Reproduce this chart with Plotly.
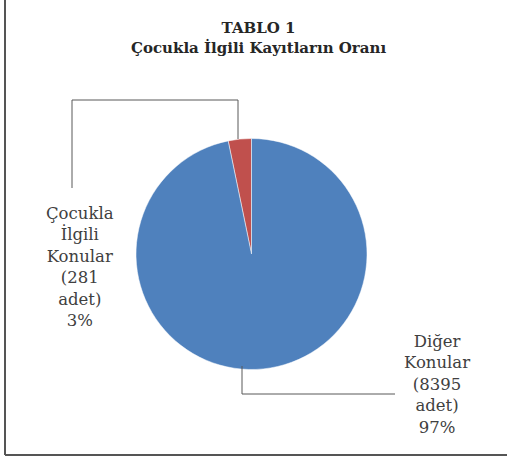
import plotly.graph_objects as go

W, H = 507, 460

categories = ["Çocukla İlgili Konular", "Diğer Konular"]
counts = [281, 8395]
percent_labels = ["3%", "97%"]
colors = ["#C0504D", "#4F81BD"]

def px(x):
    return x / W

def py(y):
    return 1 - y / H

cx, cy, r = 251.5, 254, 115.5

# rotate so the small slice ends at 12 o'clock (sits just left of the top)
start_angle = -360 * counts[0] / sum(counts)

fig = go.Figure(go.Pie(
    labels=categories,
    values=counts,
    sort=False,
    direction="clockwise",
    rotation=start_angle,
    textinfo="none",
    hoverinfo="label+value+percent",
    marker=dict(colors=colors, line=dict(color="white", width=0.5)),
    domain=dict(x=[px(cx - r), px(cx + r)], y=[py(cy + r), py(cy - r)]),
    showlegend=False,
))

line_col = "#595959"
shapes = [
    # chart border (left and bottom)
    dict(type="line", xref="paper", yref="paper", x0=px(5), y0=py(0), x1=px(5), y1=py(455),
         line=dict(color="#555555", width=2)),
    dict(type="line", xref="paper", yref="paper", x0=px(5), y0=py(455), x1=px(507), y1=py(455),
         line=dict(color="#555555", width=2)),
    # leader line for small slice
    dict(type="path", xref="paper", yref="paper",
         path=f"M {px(238)} {py(139)} L {px(238)} {py(100)} L {px(72)} {py(100)} L {px(72)} {py(188)}",
         line=dict(color=line_col, width=1)),
    # leader line for big slice
    dict(type="path", xref="paper", yref="paper",
         path=f"M {px(242)} {py(366)} L {px(242)} {py(394)} L {px(395)} {py(394)}",
         line=dict(color=line_col, width=1)),
]

font_family = "DejaVu Serif"
label_texts = [
    f"Çocukla<br>İlgili<br>Konular<br>({counts[0]}<br>adet)<br>{percent_labels[0]}",
    f"Diğer<br>Konular<br>({counts[1]}<br>adet)<br>{percent_labels[1]}",
]

annotations = [
    dict(text="<b>TABLO 1</b><br><b>Çocukla İlgili Kayıtların Oranı</b>",
         xref="paper", yref="paper", x=px(258), y=py(38), xanchor="center", yanchor="middle",
         showarrow=False, font=dict(family=font_family, size=15, color="#262626")),
    dict(text=label_texts[0], xref="paper", yref="paper", x=px(80), y=py(267),
         xanchor="center", yanchor="middle", showarrow=False,
         font=dict(family=font_family, size=16.5, color="#404040")),
    dict(text=label_texts[1], xref="paper", yref="paper", x=px(437), y=py(384),
         xanchor="center", yanchor="middle", showarrow=False,
         font=dict(family=font_family, size=16.5, color="#404040")),
]

fig.update_layout(
    width=W, height=H,
    margin=dict(l=0, r=0, t=0, b=0),
    paper_bgcolor="white",
    plot_bgcolor="white",
    shapes=shapes,
    annotations=annotations,
)

fig.write_html("out.html", config={"displayModeBar": False},
               post_script="document.body.style.margin='0';document.body.style.overflow='hidden';")
